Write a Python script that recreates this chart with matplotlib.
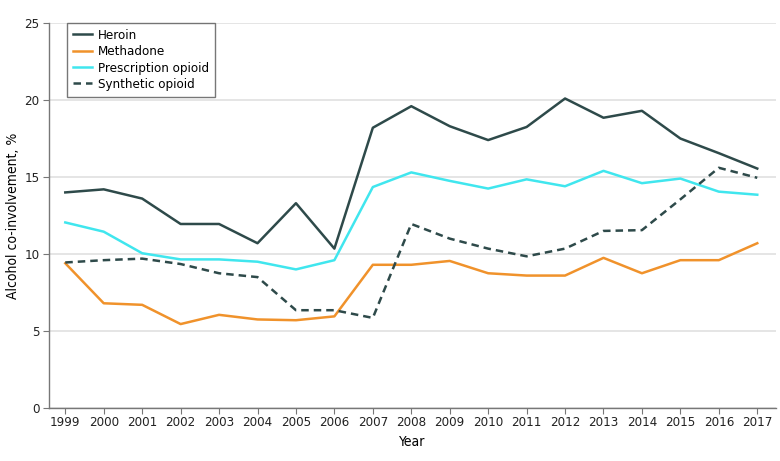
import matplotlib
matplotlib.use('Agg')
import matplotlib.pyplot as plt

plt.rcParams['font.family'] = ['DejaVu Sans']
plt.rcParams['font.stretch'] = 'condensed'

years = list(range(1999, 2018))
heroin = [14.0, 14.2, 13.6, 11.95, 11.95, 10.7, 13.3, 10.35, 18.2, 19.6,
          18.3, 17.4, 18.25, 20.1, 18.85, 19.3, 17.5, 16.55, 15.55]
methadone = [9.4, 6.8, 6.7, 5.45, 6.05, 5.75, 5.7, 5.95, 9.3, 9.3,
             9.55, 8.75, 8.6, 8.6, 9.75, 8.75, 9.6, 9.6, 10.7]
prescription = [12.05, 11.45, 10.05, 9.65, 9.65, 9.5, 9.0, 9.6, 14.35, 15.3,
                14.75, 14.25, 14.85, 14.4, 15.4, 14.6, 14.9, 14.05, 13.85]
synthetic = [9.45, 9.6, 9.7, 9.35, 8.75, 8.5, 6.35, 6.35, 5.85, 11.95,
             11.0, 10.35, 9.85, 10.35, 11.5, 11.55, 13.55, 15.6, 14.95]

dark = '#2e4a4a'
fig = plt.figure(figsize=(7.8, 4.61), dpi=100)
ax = fig.add_axes([0.063, 0.115, 0.932, 0.835])

ax.plot(years, heroin, color=dark, lw=1.8, label='Heroin')
ax.plot(years, methadone, color='#f0922b', lw=1.8, label='Methadone')
ax.plot(years, prescription, color='#40e6ee', lw=1.8, label='Prescription opioid')
ax.plot(years, synthetic, color=dark, lw=1.8, ls=(0, (3, 2)), label='Synthetic opioid')

ax.set_xlim(1998.58, 2017.49)
ax.set_ylim(0, 25)
ax.set_xticks(years)
ax.set_yticks([0, 5, 10, 15, 20, 25])
ax.yaxis.grid(True, color='#e0e0e0', lw=1.2)
ax.set_axisbelow(True)

for s in ['top', 'right']:
    ax.spines[s].set_visible(False)
for s in ['left', 'bottom']:
    ax.spines[s].set_color('#777777')
    ax.spines[s].set_linewidth(1.0)
ax.tick_params(colors='#222222', labelsize=9.5)
ax.tick_params(axis='y', length=4, color='#777777', pad=3)
ax.tick_params(axis='x', length=4, color='#777777', pad=2)

ax.set_xlabel('Year', fontsize=10, labelpad=4)
ax.set_ylabel('Alcohol co-involvement, %', fontsize=10, labelpad=3)

leg = ax.legend(loc='upper left', bbox_to_anchor=(0.025, 1.0), borderaxespad=0,
                fontsize=9.5, frameon=True, fancybox=False, handlelength=1.4,
                borderpad=0.45, labelspacing=0.25, handletextpad=0.5)
leg.get_frame().set_edgecolor('#555555')
leg.get_frame().set_linewidth(1.0)

fig.savefig('out.png', dpi=100)
